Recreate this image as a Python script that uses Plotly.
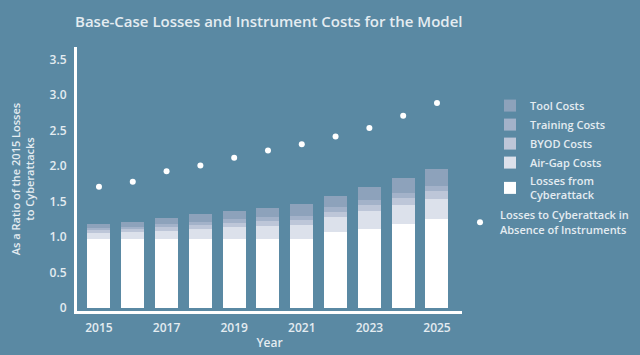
import plotly.graph_objects as go

years = list(range(2015, 2026))
losses = [0.97, 0.97, 0.97, 0.97, 0.97, 0.97, 0.98, 1.08, 1.12, 1.18, 1.26]
air_gap = [0.09, 0.10, 0.12, 0.15, 0.17, 0.19, 0.19, 0.21, 0.25, 0.27, 0.28]
byod = [0.035, 0.04, 0.05, 0.05, 0.06, 0.07, 0.07, 0.07, 0.08, 0.10, 0.11]
training = [0.04, 0.04, 0.05, 0.05, 0.06, 0.06, 0.06, 0.06, 0.07, 0.07, 0.07]
tool = [0.055, 0.06, 0.08, 0.10, 0.11, 0.12, 0.165, 0.155, 0.19, 0.22, 0.235]
no_instruments = [1.71, 1.78, 1.93, 2.01, 2.12, 2.22, 2.31, 2.42, 2.54, 2.71, 2.89]

y_tickvals = [0, 0.5, 1.0, 1.5, 2.0, 2.5, 3.0, 3.5]
y_ticktext = ["0", "0.5", "1.0", "1.5", "2.0", "2.5", "3.0", "3.5"]
x_tickvals = [2015, 2017, 2019, 2021, 2023, 2025]

BG = "#5a89a3"
TXT = "#e4ecf1"
FONT = "Open Sans"

series = [
    ("Losses from<br>Cyberattack", losses, "#ffffff", 5),
    ("Air-Gap Costs", air_gap, "#dce1eb", 4),
    ("BYOD Costs", byod, "#bdc6d8", 3),
    ("Training Costs", training, "#a3b2c9", 2),
    ("Tool Costs", tool, "#8da2bb", 1),
]

fig = go.Figure()
for name, vals, color, rank in series:
    fig.add_trace(go.Bar(
        x=years, y=vals, name=name, marker=dict(color=color, line=dict(width=0)),
        legendrank=rank, legend="legend",
    ))

fig.add_trace(go.Scatter(
    x=years, y=no_instruments, mode="markers",
    name="Losses to Cyberattack in<br>Absence of Instruments",
    marker=dict(color="white", size=6),
    legend="legend2",
))

legend_font = dict(size=11, color=TXT, family=FONT, weight=600)

# paper area spans x 77..640; plot occupies the left part via the axis domain
PAPER_W = 640 - 77
PLOT_W = 385

fig.update_layout(
    width=640, height=355,
    barmode="stack", bargap=0.32,
    paper_bgcolor=BG, plot_bgcolor=BG,
    margin=dict(l=77, r=0, t=47, b=44),
    font=dict(family=FONT, color=TXT, size=12, weight=600),
    title=dict(text="Base-Case Losses and Instrument Costs for the Model",
               x=75 / 640, xanchor="left", y=1 - 22 / 355, yanchor="middle",
               font=dict(size=15, color=TXT, family=FONT, weight=600)),
    legend=dict(x=(490 - 77) / PAPER_W, xanchor="left", y=0.833, yanchor="top",
                traceorder="normal", font=legend_font,
                bgcolor="rgba(0,0,0,0)", itemsizing="constant"),
    legend2=dict(x=(460 - 77) / PAPER_W, xanchor="left", y=0.415, yanchor="top",
                 font=legend_font, bgcolor="rgba(0,0,0,0)", itemsizing="trace"),
    showlegend=True,
)

fig.update_xaxes(
    domain=[0, PLOT_W / PAPER_W],
    range=[2014.35, 2025.74], tickvals=x_tickvals, ticktext=[str(v) for v in x_tickvals],
    showgrid=False, zeroline=False, showline=True, linecolor="white", linewidth=3,
    ticks="", ticklabelstandoff=4, tickfont=dict(size=12, color=TXT),
    title=dict(text="Year", font=dict(size=12, color=TXT), standoff=4),
)
fig.update_yaxes(
    range=[-0.04, 3.68], tickvals=y_tickvals, ticktext=y_ticktext,
    showgrid=False, zeroline=False, showline=True, linecolor="white", linewidth=3,
    ticks="", ticklabelstandoff=5, tickfont=dict(size=12, color=TXT),
    title=dict(text="As a Ratio of the 2015 Losses<br>to Cyberattacks",
               font=dict(size=11, color=TXT), standoff=13),
)

fig.write_html("out.html", config={"displayModeBar": False},
               post_script="document.body.style.margin='0';")
